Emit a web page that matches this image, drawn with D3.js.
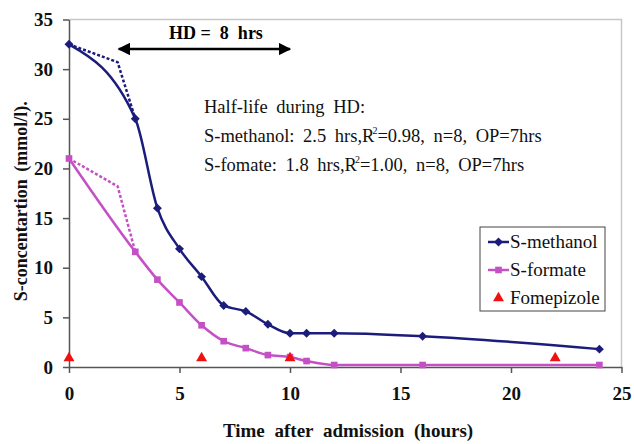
<!DOCTYPE html>
<html>
<head>
<meta charset="utf-8">
<script src="https://cdn.jsdelivr.net/npm/d3@7"></script>
<style>
  body { margin: 0; background: #fff; }
  svg text { font-family: "Liberation Serif", "DejaVu Serif", "Times New Roman", Times, serif !important; }
</style>
</head>
<body>
<div id="chart"></div>
<script>
// Data
const hours    = [0, 3, 4, 5, 6, 7, 8, 9, 10, 10.75, 12, 16, 24];
const methanol = [32.5, 25, 16, 11.9, 9.1, 6.2, 5.6, 4.3, 3.4, 3.4, 3.4, 3.1, 1.8];
const formate  = [21, 11.6, 8.8, 6.5, 4.2, 2.6, 1.9, 1.2, 1.0, 0.6, 0.2, 0.2, 0.2];

// dotted "without HD" guides
const dottedHours    = [0, 2.2, 3];
const methanolDotted = [32.5, 30.7, 25];
const formateDotted  = [21, 18.2, 11.6];

const fomepizoleHours = [0, 6, 10, 22];
const fomepizoleLevel = [1, 1, 1, 1];

const xTicks = [0, 5, 10, 15, 20, 25];
const yTicks = [0, 5, 10, 15, 20, 25, 30, 35];

const hdStart = 2.25, hdEnd = 10;
const noteLines = ["Half-life during HD:",
                   "S-methanol: 2.5 hrs,R|=0.98, n=8, OP=7hrs",
                   "S-fomate: 1.8 hrs,R|=1.00, n=8, OP=7hrs"];

const W = 634, H = 444;
const margin = { top: 19.5, right: 12.5, bottom: 77, left: 69 };
const navy = "#1c1c7c", pink = "#c550c5", red = "#f01010";

const svg = d3.select('#chart').append('svg')
    .attr('width', W).attr('height', H);

const x = d3.scaleLinear().domain([0, 25]).range([margin.left, W - margin.right]);
const y = d3.scaleLinear().domain([0, 35]).range([H - margin.bottom, margin.top]);

// plot frame (light grey top/right)
svg.append('path')
    .attr('d', `M${x(0)},${y(35)}H${x(25)}V${y(0)}`)
    .attr('fill', 'none').attr('stroke', '#c8c8c8').attr('stroke-width', 1.5);

// axes
const xAxis = svg.append('g')
    .attr('transform', `translate(0,${y(0)})`)
    .call(d3.axisBottom(x).tickValues(xTicks).tickSize(6).tickPadding(14).tickSizeOuter(0));
const yAxis = svg.append('g')
    .attr('transform', `translate(${x(0)},0)`)
    .call(d3.axisLeft(y).tickValues(yTicks).tickSize(6).tickPadding(10).tickSizeOuter(0));

[xAxis, yAxis].forEach(g => {
    g.select('.domain').attr('stroke', '#555').attr('stroke-width', 1.5);
    g.selectAll('.tick line').attr('stroke', '#555').attr('stroke-width', 1.5);
    g.selectAll('.tick text')
        .attr('font-size', 19).attr('font-weight', 'bold').attr('fill', '#111');
});

// axis titles
svg.append('text')
    .attr('x', 348).attr('y', 437)
    .attr('text-anchor', 'middle')
    .attr('font-size', 19).attr('font-weight', 'bold').attr('fill', '#111')
    .attr('word-spacing', 5)
    .text('Time after admission (hours)');
svg.append('text')
    .attr('transform', `translate(27,${(y(0) + y(35)) / 2 + 8}) rotate(-90)`)
    .attr('text-anchor', 'middle')
    .attr('font-size', 18).attr('font-weight', 'bold').attr('fill', '#111')
    .attr('word-spacing', 3)
    .text('S-concentartion (mmol/l).');

// series
const line = d3.line().x(d => x(d[0])).y(d => y(d[1])).curve(d3.curveMonotoneX);
const straight = d3.line().x(d => x(d[0])).y(d => y(d[1]));

const methPts = hours.map((h, i) => [h, methanol[i]]);
const formPts = hours.map((h, i) => [h, formate[i]]);

svg.append('path').attr('d', straight(dottedHours.map((h, i) => [h, methanolDotted[i]])))
    .attr('fill', 'none').attr('stroke', navy).attr('stroke-width', 2.5).attr('stroke-dasharray', '3,2');
svg.append('path').attr('d', straight(dottedHours.map((h, i) => [h, formateDotted[i]])))
    .attr('fill', 'none').attr('stroke', pink).attr('stroke-width', 2.5).attr('stroke-dasharray', '3,2');

svg.append('path').attr('d', line(formPts))
    .attr('fill', 'none').attr('stroke', pink).attr('stroke-width', 2.5);
svg.append('path').attr('d', line(methPts))
    .attr('fill', 'none').attr('stroke', navy).attr('stroke-width', 2.5);

const diamond = d3.symbol().type(d3.symbolSquare).size(40);
const square = d3.symbol().type(d3.symbolSquare).size(44);
const triangle = d3.symbol().type(d3.symbolTriangle).size(52);

svg.selectAll('.fm').data(formPts).enter().append('path')
    .attr('d', square)
    .attr('transform', d => `translate(${x(d[0])},${y(d[1])})`)
    .attr('fill', pink);
svg.selectAll('.mm').data(methPts).enter().append('path')
    .attr('d', diamond)
    .attr('transform', d => `translate(${x(d[0])},${y(d[1])}) rotate(45)`)
    .attr('fill', navy);
svg.selectAll('.tri').data(fomepizoleHours).enter().append('path')
    .attr('d', triangle)
    .attr('transform', (d, i) => `translate(${x(d)},${y(fomepizoleLevel[i]) + 1})`)
    .attr('fill', red);

// HD arrow
const defs = svg.append('defs');
defs.append('marker').attr('id', 'ah').attr('viewBox', '0 0 10 10')
    .attr('refX', 9).attr('refY', 5).attr('markerWidth', 5).attr('markerHeight', 5)
    .attr('orient', 'auto-start-reverse')
    .append('path').attr('d', 'M0,0L10,5L0,10Z').attr('fill', '#000');
svg.append('line')
    .attr('x1', x(hdStart)).attr('x2', x(hdEnd)).attr('y1', 49).attr('y2', 49)
    .attr('stroke', '#000').attr('stroke-width', 2.5)
    .attr('marker-start', 'url(#ah)').attr('marker-end', 'url(#ah)');
svg.append('text')
    .attr('x', 216).attr('y', 39).attr('text-anchor', 'middle')
    .attr('font-size', 18).attr('font-weight', 'bold').attr('fill', '#000')
    .attr('xml:space', 'preserve')
    .text('HD =  8  hrs');

// half-life note
const note = svg.append('text').attr('font-size', 18.5).attr('fill', '#111').attr('word-spacing', 4);
noteLines.forEach((ln, i) => {
    const t = note.append('tspan').attr('x', 204).attr('y', 113 + i * 29);
    const parts = ln.split('|');
    if (parts.length === 1) { t.text(ln); return; }
    t.text(parts[0]);
    note.append('tspan').attr('dx', -2).attr('dy', -8).attr('font-size', 10).text('2');
    note.append('tspan').attr('dy', 8).text(parts[1]);
});

// legend
const lg = svg.append('g').attr('transform', 'translate(480,227)');
lg.append('rect').attr('width', 125).attr('height', 84)
    .attr('fill', '#fff').attr('stroke', '#444').attr('stroke-width', 1);
const legendItems = [
    { name: 'S-methanol', color: navy, sym: 'diamond' },
    { name: 'S-formate', color: pink, sym: 'square' },
    { name: 'Fomepizole', color: red, sym: 'triangle' }
];
legendItems.forEach((it, i) => {
    const g = lg.append('g').attr('transform', `translate(0,${15 + i * 28})`);
    if (it.sym !== 'triangle') {
        g.append('line').attr('x1', 8).attr('x2', 29).attr('stroke', it.color).attr('stroke-width', 2.5);
    }
    g.append('path')
        .attr('d', it.sym === 'diamond' ? diamond : it.sym === 'square' ? square : triangle)
        .attr('transform', `translate(18.5,0)${it.sym === 'diamond' ? ' rotate(45)' : ''}`)
        .attr('fill', it.color);
    g.append('text').attr('x', 30).attr('y', 6)
        .attr('font-size', 19).attr('fill', '#111')
        .text(it.name);
});
</script>
</body>
</html>
